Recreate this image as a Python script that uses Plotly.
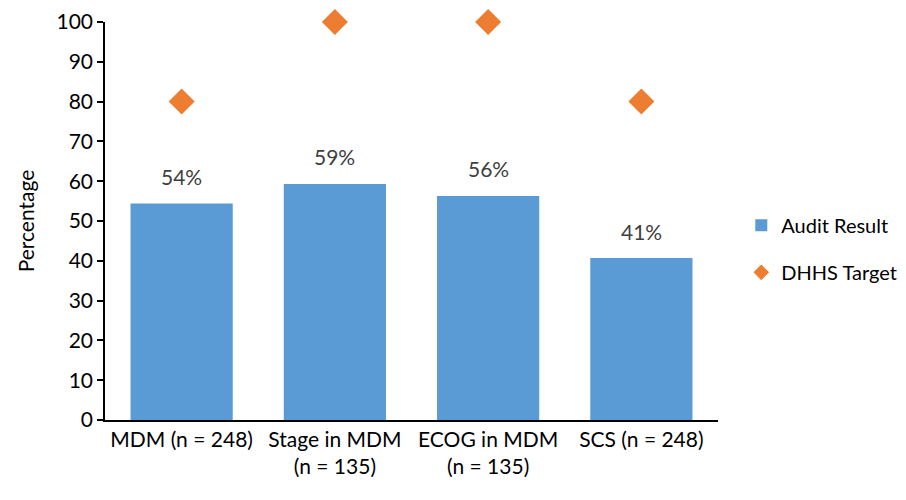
import plotly.graph_objects as go

# Audit measures and results
categories = ["MDM (n = 248)", "Stage in MDM<br>(n = 135)", "ECOG in MDM<br>(n = 135)", "SCS (n = 248)"]
audit_result = [54.4, 59.3, 56.3, 40.7]
dhhs_target = [80, 100, 100, 80]
y_ticks = [0, 10, 20, 30, 40, 50, 60, 70, 80, 90, 100]

FONT = "Lato, 'Open Sans', sans-serif"
BLUE = "#5B9BD5"
ORANGE = "#ED7D31"
FS = 21

fig = go.Figure()

fig.add_trace(go.Bar(
    x=categories,
    y=audit_result,
    name="Audit Result",
    marker=dict(color=BLUE, line=dict(width=0)),
    legendgroup="a",
    hoverinfo="x+y",
))

fig.add_trace(go.Scatter(
    x=categories,
    y=dhhs_target,
    name="DHHS Target",
    mode="markers",
    marker=dict(symbol="diamond", size=20, color=ORANGE),
    cliponaxis=False,
    legendgroup="b",
))

# Value labels above the bars
for cat, val in zip(categories, audit_result):
    fig.add_annotation(
        x=cat, y=val, text=f"{val:.0f}%", showarrow=False,
        yshift=27, font=dict(size=FS, color="#404040", family=FONT),
    )

fig.update_layout(
    width=906,
    height=500,
    margin=dict(l=105, r=188, t=22, b=80, autoexpand=False),
    paper_bgcolor="white",
    plot_bgcolor="white",
    bargap=0.333,
    font=dict(family=FONT, size=FS, color="#000000"),
    showlegend=True,
    legend=dict(
        x=1.038, y=0.43, xanchor="left", yanchor="middle",
        font=dict(size=20, color="#000000", family=FONT),
        tracegroupgap=18,
        itemsizing="constant",
        itemwidth=30,
        bgcolor="rgba(0,0,0,0)",
    ),
)

fig.update_xaxes(
    showline=True, linecolor="#000000", linewidth=1.5,
    ticks="", showgrid=False,
    tickfont=dict(size=FS, color="#000000", family=FONT),
)

fig.update_yaxes(
    range=[0, 100],
    tickvals=y_ticks,
    showline=True, linecolor="#000000", linewidth=1.5,
    ticks="outside", ticklen=6, tickcolor="#000000", tickwidth=1.5,
    showgrid=False, zeroline=False,
    tickfont=dict(size=FS, color="#000000", family=FONT),
    title=dict(text="Percentage", font=dict(size=FS, color="#000000", family=FONT), standoff=16),
)

fig.write_html("out.html")
